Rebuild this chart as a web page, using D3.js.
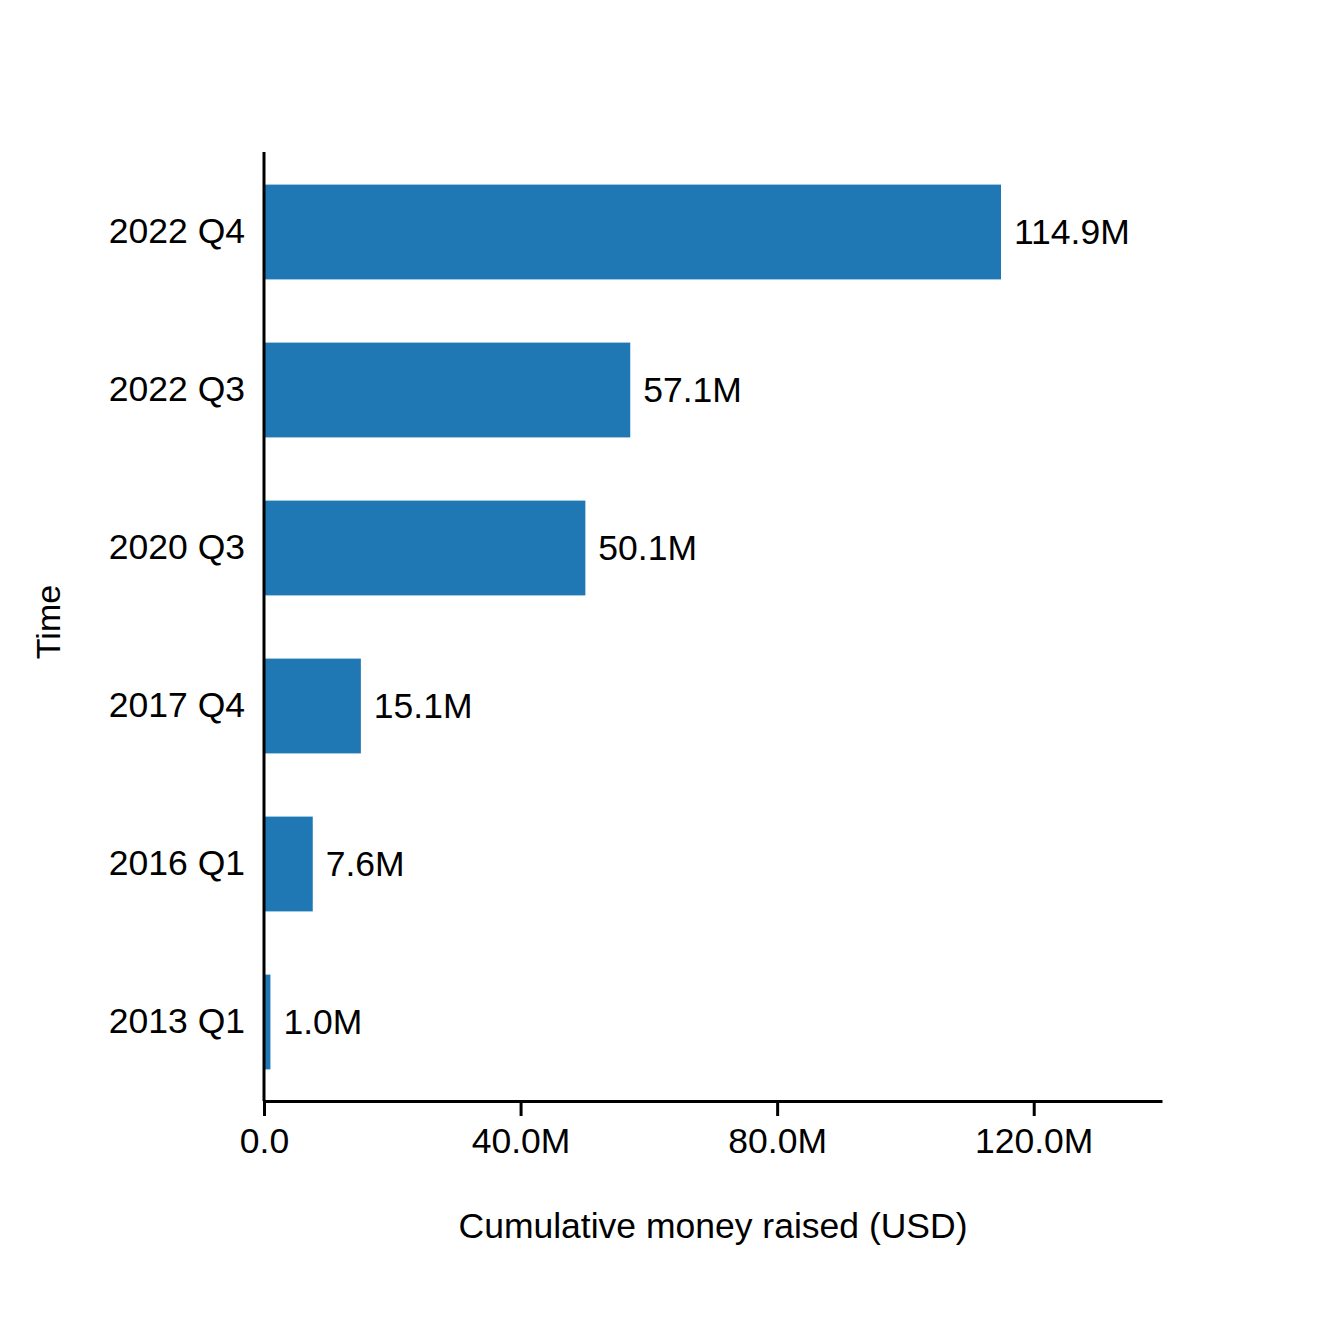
<!DOCTYPE html>
<html>
<head>
<meta charset="utf-8">
<script src="https://cdn.jsdelivr.net/npm/d3@7"></script>
<style>
  body { margin: 0; background: #fff; }
  text { font-family: "Liberation Sans", Arial, sans-serif; fill: #000; }
</style>
</head>
<body>
<div id="chart"></div>
<script>
// quarters, bottom to top as drawn
const quarters = ["2013 Q1", "2016 Q1", "2017 Q4", "2020 Q3", "2022 Q3", "2022 Q4"];
const raised = [1.0e6, 7.6e6, 15.1e6, 50.1e6, 57.1e6, 114.9e6];
const xTicks = [0, 40e6, 80e6, 120e6];

const width = 1320, height = 1320;
const margin = {top: 152, right: 158, bottom: 219, left: 264};
const fontSize = "35.5px";

const svg = d3.select("#chart")
    .append("svg")
    .attr("width", width)
    .attr("height", height);

const x = d3.scaleLinear()
    .domain([0, 140e6])
    .range([margin.left, width - margin.right]);

const y = d3.scaleBand()
    .domain(quarters.slice().reverse())
    .range([margin.top + 1, height - margin.bottom])
    .paddingInner(0.4)
    .paddingOuter(0.2);

const fmt = v => v === 0 ? "0.0" : (v / 1e6).toFixed(1) + "M";

const data = quarters.map((q, i) => ({q: q, v: raised[i]}));

svg.append("g")
    .selectAll("rect")
    .data(data)
    .join("rect")
    .attr("x", x(0))
    .attr("y", d => y(d.q))
    .attr("width", d => x(d.v) - x(0))
    .attr("height", y.bandwidth())
    .attr("fill", "#1f77b4");

svg.append("g")
    .selectAll("text")
    .data(data)
    .join("text")
    .attr("x", d => x(d.v) + 13)
    .attr("y", d => y(d.q) + y.bandwidth() / 2)
    .attr("dy", "0.35em")
    .style("font-size", fontSize)
    .text(d => fmt(d.v));

// x axis
const xAxis = svg.append("g")
    .attr("transform", `translate(0,${height - margin.bottom})`)
    .call(d3.axisBottom(x).tickValues(xTicks).tickFormat(fmt).tickSize(15).tickPadding(12).tickSizeOuter(0));
xAxis.select(".domain").attr("stroke", "#000").attr("stroke-width", 3);
xAxis.selectAll(".tick line").attr("stroke", "#000").attr("stroke-width", 3);
xAxis.selectAll(".tick text").style("font-size", fontSize).attr("fill", "#000");

// y axis
const yAxis = svg.append("g")
    .attr("transform", `translate(${margin.left},0)`)
    .call(d3.axisLeft(y).tickSize(0).tickPadding(19).tickSizeOuter(0));
yAxis.select(".domain").attr("stroke", "#000").attr("stroke-width", 3)
    .attr("d", `M0,${margin.top}V${height - margin.bottom}`);
yAxis.selectAll(".tick text").style("font-size", fontSize).attr("fill", "#000");

svg.append("text")
    .attr("x", (x.range()[0] + x.range()[1]) / 2)
    .attr("y", 1238)
    .attr("text-anchor", "middle")
    .style("font-size", fontSize)
    .text("Cumulative money raised (USD)");

svg.append("text")
    .attr("transform", `translate(60,622) rotate(-90)`)
    .attr("text-anchor", "middle")
    .style("font-size", "34px")
    .text("Time");
</script>
</body>
</html>
